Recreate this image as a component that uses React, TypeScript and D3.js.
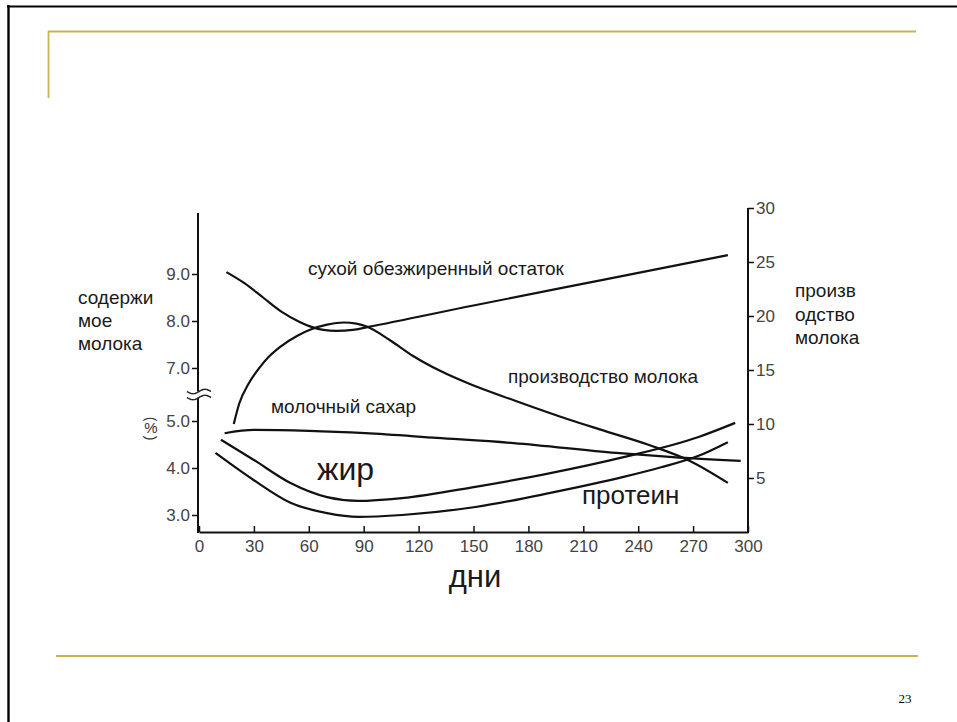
import React, { useRef, useEffect } from 'react';
import * as d3 from 'd3';

// days in milk
const xTicks = [0, 30, 60, 90, 120, 150, 180, 210, 240, 270, 300];
const leftTicks = [3, 4, 5, 7, 8, 9];
const rightTicks = [5, 10, 15, 20, 25, 30];

// сухой обезжиренный остаток (%), left axis
const snfDays = [15, 25, 35, 45, 55, 61, 68, 75, 84, 92, 150, 220, 289];
const snfVals = [9.04, 8.8, 8.5, 8.2, 7.98, 7.88, 7.81, 7.79, 7.81, 7.87, 8.33, 8.87, 9.4];

// производство молока (kg), right axis
const prodDays = [19, 22, 27, 33, 38, 44, 54, 61, 70, 79, 86, 92, 104, 117, 132, 148, 172, 192, 219, 246, 268, 289];
const prodVals = [10.0, 11.9, 13.7, 15.2, 16.2, 17.1, 18.2, 18.75, 19.2, 19.4, 19.3, 19.0, 17.8, 16.3, 14.9, 13.7, 12.2, 11.0, 9.5, 8.05, 6.6, 4.55];

// молочный сахар (%)
const lactDays = [14, 30, 60, 91, 130, 172, 228, 259, 296];
const lactVals = [4.74, 4.81, 4.79, 4.74, 4.64, 4.53, 4.32, 4.23, 4.15];

// жир (%)
const fatDays = [12, 30, 50, 70, 87, 111, 151, 192, 232, 273, 293];
const fatVals = [4.6, 4.17, 3.68, 3.38, 3.3, 3.36, 3.6, 3.89, 4.23, 4.66, 4.96];

// протеин (%)
const protDays = [9, 30, 50, 70, 87, 111, 151, 192, 232, 252, 273, 289];
const protVals = [4.32, 3.74, 3.26, 3.04, 2.96, 3.0, 3.17, 3.47, 3.81, 4.01, 4.26, 4.55];

const FONT = '"Liberation Sans", Arial, sans-serif';

const App: React.FC = () => {
    const ref = useRef<SVGSVGElement | null>(null);

    useEffect(() => {
        if (!ref.current) return;
        const svg = d3.select(ref.current);
        svg.selectAll('*').remove();

        // slide frame + gold rules
        svg.append('line').attr('x1', 7).attr('x2', 957).attr('y1', 6.5).attr('y2', 6.5)
            .attr('stroke', '#000').attr('stroke-width', 2.2);
        svg.append('line').attr('x1', 8.5).attr('x2', 8.5).attr('y1', 5).attr('y2', 722)
            .attr('stroke', '#000').attr('stroke-width', 2.4);
        const gold = '#c9b450';
        svg.append('line').attr('x1', 48).attr('x2', 916).attr('y1', 31.5).attr('y2', 31.5)
            .attr('stroke', gold).attr('stroke-width', 1.8);
        svg.append('line').attr('x1', 48.5).attr('x2', 48.5).attr('y1', 31).attr('y2', 98)
            .attr('stroke', gold).attr('stroke-width', 1.8);
        svg.append('line').attr('x1', 56).attr('x2', 918).attr('y1', 656).attr('y2', 656)
            .attr('stroke', gold).attr('stroke-width', 1.8);
        svg.append('text').attr('x', 905).attr('y', 703).attr('text-anchor', 'middle')
            .attr('font-family', '"Liberation Serif", serif').attr('font-size', 13).text('23');

        // scales
        const left = 198, right = 748, bottom = 532, leftTop = 213, rightTop = 208;
        const x = d3.scaleLinear().domain([0, 300]).range([left + 1, right]);
        const y3 = 515, unit = 47, breakGap = 53;
        const yL = d3.scaleLinear().domain([3, 5, 7, 9])
            .range([y3, y3 - 2 * unit, y3 - 2 * unit - breakGap, y3 - 4 * unit - breakGap]);
        const yR = d3.scaleLinear().domain([0, 30]).range([bottom, rightTop]);

        const tickColor = '#444';

        // x axis
        const gx = svg.append('g').attr('transform', `translate(0,${bottom})`)
            .call(d3.axisBottom(x).tickValues(xTicks).tickSizeInner(-6).tickSizeOuter(0).tickPadding(8));
        gx.select('.domain').attr('stroke', '#111').attr('stroke-width', 2);
        gx.selectAll('.tick line').attr('stroke', '#111').attr('stroke-width', 1.5);
        gx.selectAll('.tick text').attr('font-family', FONT).attr('font-size', 17).attr('fill', tickColor);

        // left axis
        const gl = svg.append('g').attr('transform', `translate(${left},0)`)
            .call(d3.axisLeft(yL).tickValues(leftTicks).tickFormat(d3.format('.1f')).tickSize(6).tickPadding(2));
        gl.select('.domain').remove();
        gl.selectAll('.tick line').attr('stroke', '#111').attr('stroke-width', 1.5);
        gl.selectAll('.tick text').attr('font-family', FONT).attr('font-size', 17).attr('fill', tickColor);
        svg.append('line').attr('x1', left).attr('x2', left).attr('y1', leftTop).attr('y2', bottom + 1)
            .attr('stroke', '#111').attr('stroke-width', 2);

        // right axis
        const gr = svg.append('g').attr('transform', `translate(${right},0)`)
            .call(d3.axisRight(yR).tickValues(rightTicks).tickSize(6).tickPadding(2));
        gr.select('.domain').remove();
        gr.selectAll('.tick line').attr('stroke', '#111').attr('stroke-width', 1.5);
        gr.selectAll('.tick text').attr('font-family', FONT).attr('font-size', 17).attr('fill', tickColor);
        svg.append('line').attr('x1', right).attr('x2', right).attr('y1', rightTop).attr('y2', bottom + 1)
            .attr('stroke', '#111').attr('stroke-width', 2);

        // axis break on the left axis
        const breakY = (yL(5) + yL(7)) / 2;
        const wave = (dy: number) => {
            const pts: [number, number][] = d3.range(0, 25).map(i => [left - 11 + i, breakY + dy + 2.2 * Math.sin(i / 24 * Math.PI * 2)]);
            return d3.line()(pts);
        };
        svg.append('rect').attr('x', left - 2).attr('y', breakY - 3).attr('width', 4).attr('height', 6).attr('fill', '#fff');
        [-3, 3].forEach(dy => svg.append('path').attr('d', wave(dy) as string)
            .attr('fill', 'none').attr('stroke', '#222').attr('stroke-width', 1.5));

        // curves
        const lineL = d3.line<[number, number]>().x(d => x(d[0])).y(d => yL(d[1])).curve(d3.curveMonotoneX);
        const lineR = d3.line<[number, number]>().x(d => x(d[0])).y(d => yR(d[1])).curve(d3.curveMonotoneX);
        const series: { days: number[]; vals: number[]; axis: 'L' | 'R' }[] = [
            { days: snfDays, vals: snfVals, axis: 'L' },
            { days: prodDays, vals: prodVals, axis: 'R' },
            { days: lactDays, vals: lactVals, axis: 'L' },
            { days: fatDays, vals: fatVals, axis: 'L' },
            { days: protDays, vals: protVals, axis: 'L' },
        ];
        series.forEach(s => {
            const pts = s.days.map((d, i) => [d, s.vals[i]] as [number, number]);
            svg.append('path').attr('d', (s.axis === 'L' ? lineL : lineR)(pts) as string)
                .attr('fill', 'none').attr('stroke', '#111').attr('stroke-width', 2.2);
        });

        // labels
        const label = (tx: number, ty: number, t: string, size: number, anchor = 'start') =>
            svg.append('text').attr('x', tx).attr('y', ty).attr('text-anchor', anchor)
                .attr('font-family', FONT).attr('font-size', size).attr('fill', '#1a1a1a').text(t);

        label(308, 275, 'сухой обезжиренный остаток', 19);
        label(508, 383, 'производство молока', 19);
        label(271, 413, 'молочный сахар', 19);
        label(317, 480, 'жир', 32);
        label(582, 504, 'протеин', 26);
        label(475, 587, 'дни', 31, 'middle');

        ['содержи', 'мое', 'молока'].forEach((t, i) => label(78, 304 + i * 23, t, 19));
        ['произв', 'одство', 'молока'].forEach((t, i) => label(795, 297 + i * 23.5, t, 19));

        // (%) unit mark, vertical style
        const pc = svg.append('g').attr('transform', 'translate(151,428)')
            .attr('font-family', FONT).attr('fill', '#333');
        pc.append('text').attr('text-anchor', 'middle').attr('y', 5).attr('font-size', 15).text('%');
        pc.append('text').attr('text-anchor', 'middle').attr('font-size', 14)
            .attr('transform', 'translate(0,-9) rotate(90)').attr('dy', '0.35em').text('(');
        pc.append('text').attr('text-anchor', 'middle').attr('font-size', 14)
            .attr('transform', 'translate(0,10) rotate(90)').attr('dy', '0.35em').text(')');
    }, []);

    return (
        <svg ref={ref} width={957} height={722}
            style={{ position: 'absolute', left: 0, top: 0, background: '#fff' }} />
    );
};

export default App;
